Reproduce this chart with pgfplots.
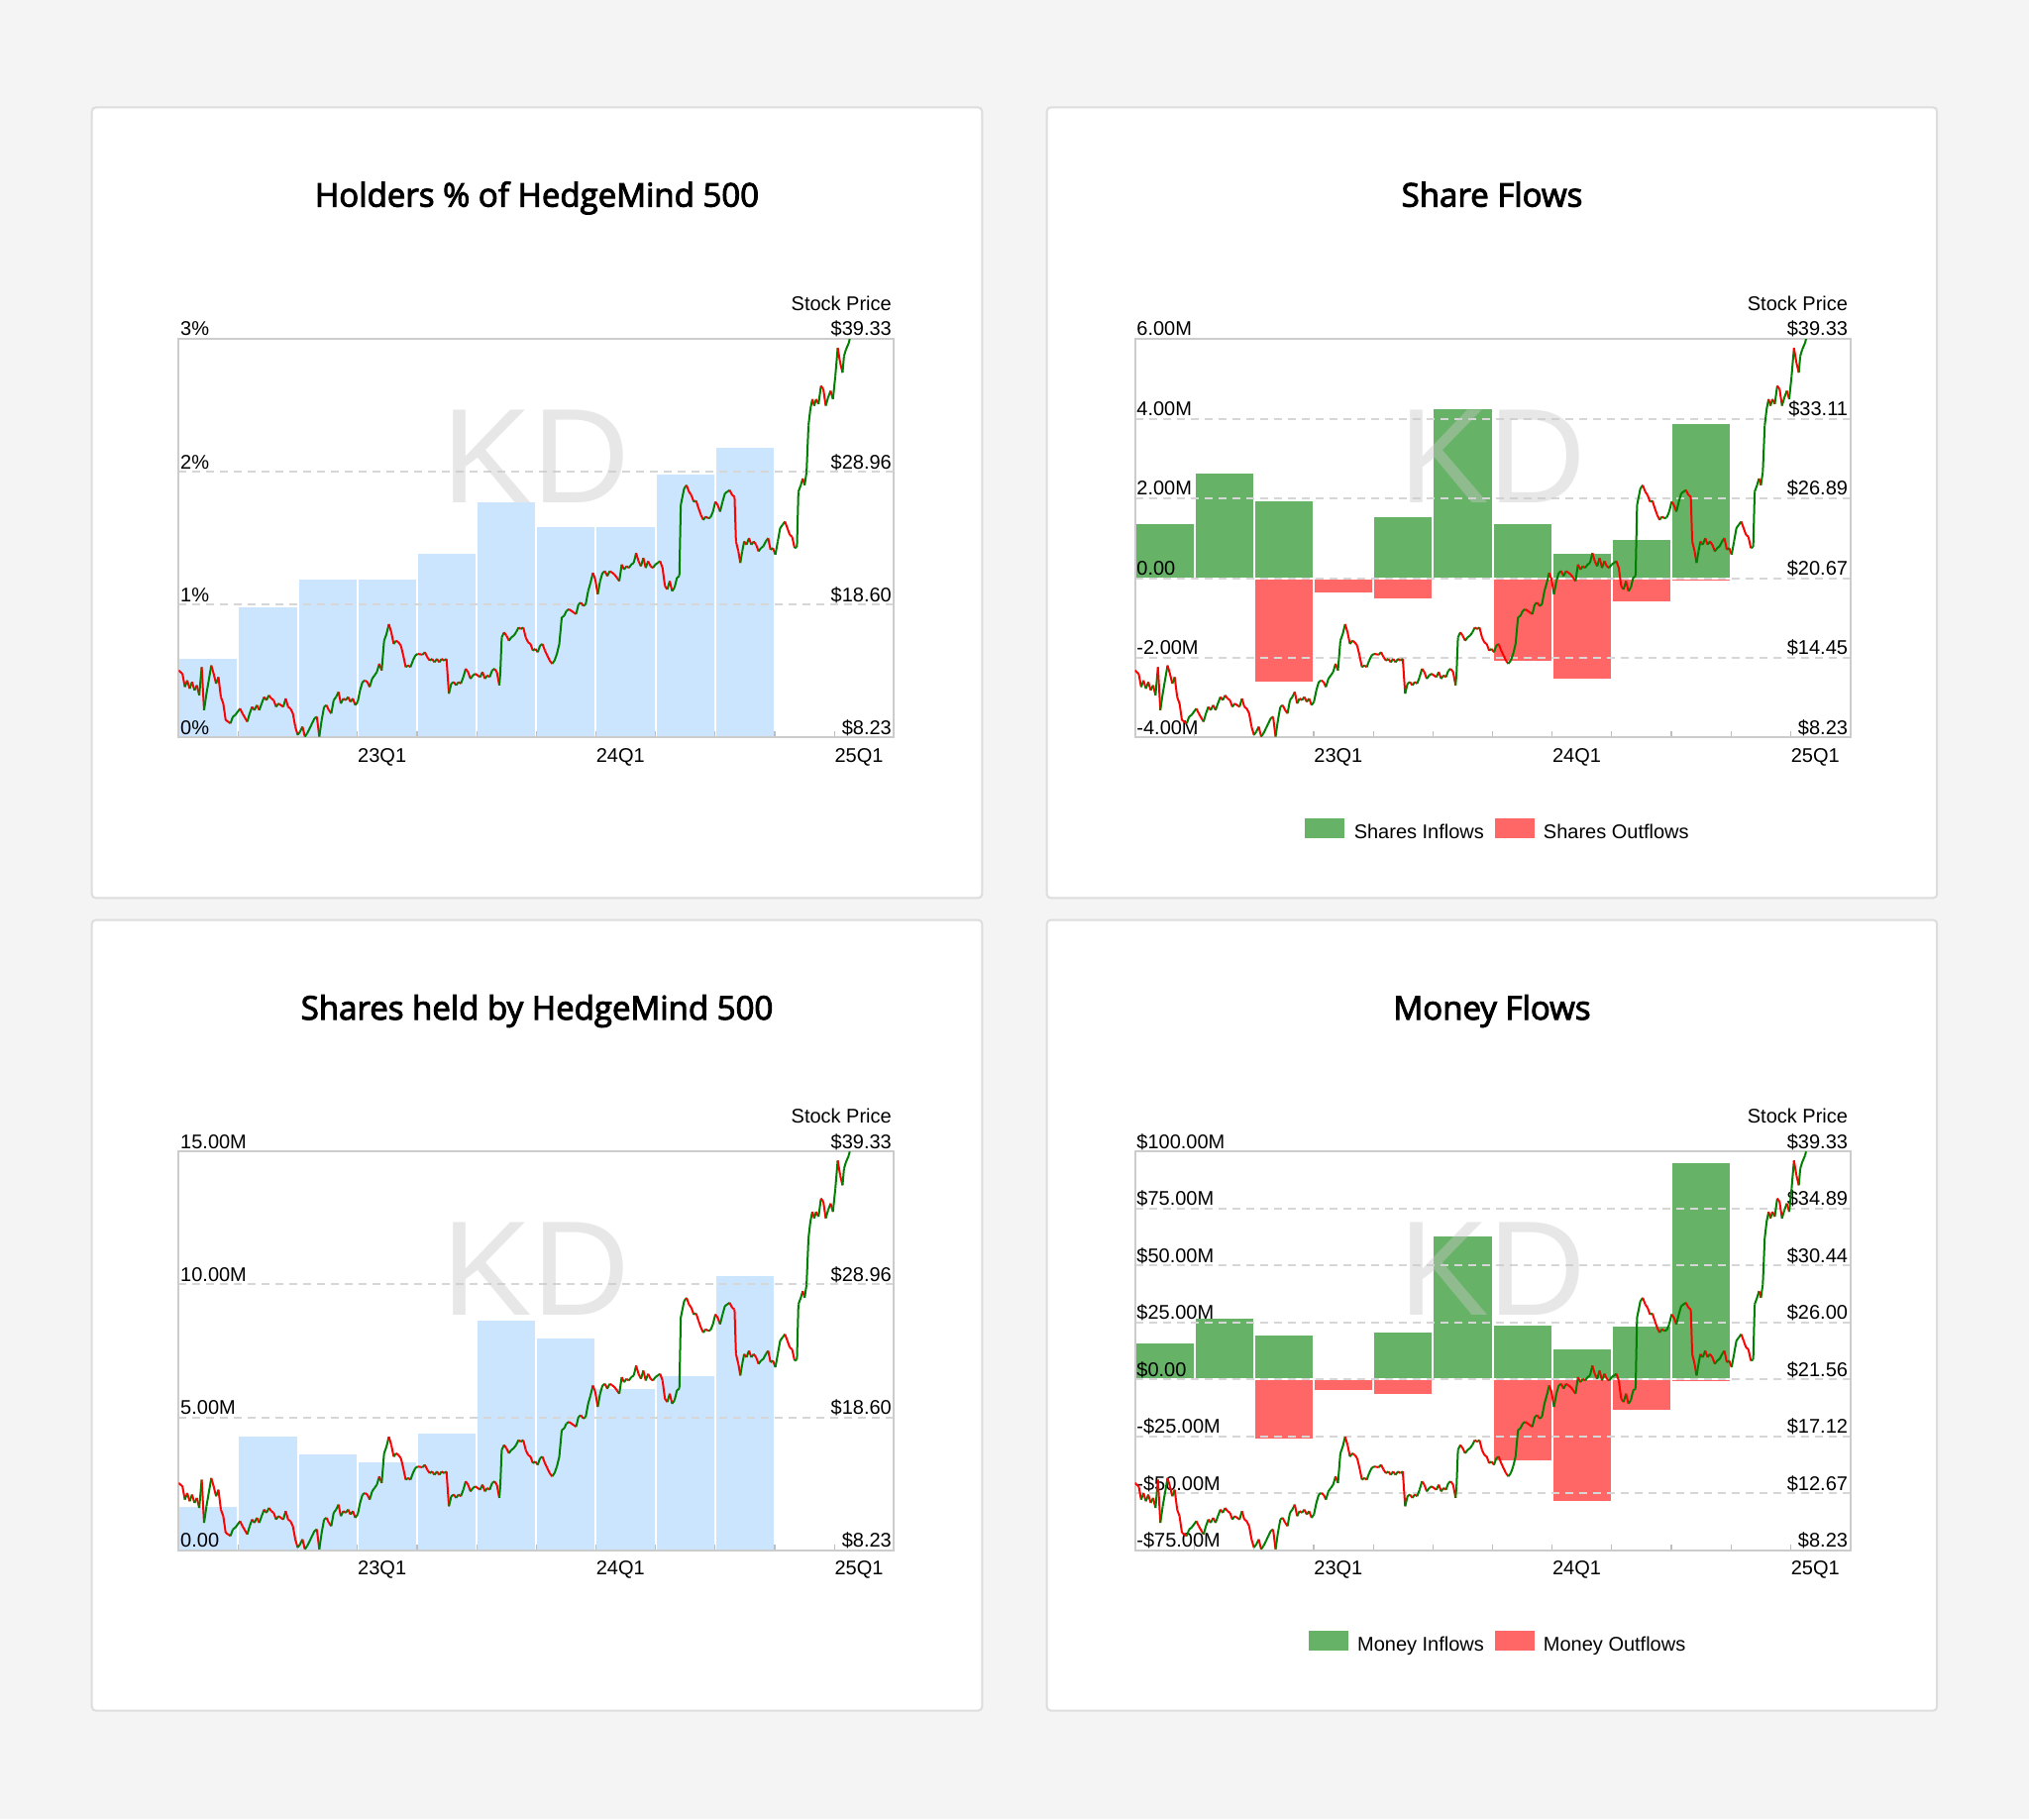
\documentclass[border=0pt]{standalone}
\usepackage{fontspec}
\setmainfont{Liberation Sans}
\newfontfamily\titlefont[FakeBold=3]{Open Sans}
\usepackage{pgfplots}
\usepackage{pgfplotstable}
\pgfplotsset{compat=1.18}
\definecolor{bgc}{RGB}{244,244,244}
\definecolor{cardb}{RGB}{221,221,221}
\definecolor{bordc}{RGB}{204,204,204}
\definecolor{gridc}{RGB}{214,214,214}
\definecolor{tickc}{RGB}{190,190,190}
\definecolor{holdc}{RGB}{204,229,255}
\definecolor{inc}{RGB}{102,178,102}
\definecolor{outc}{RGB}{255,102,102}
\definecolor{pricered}{RGB}{255,0,0}
\definecolor{pricegreen}{RGB}{0,128,0}
\definecolor{wmc}{RGB}{200,200,200}
\newcommand\lab{\fontsize{10}{12}\selectfont}

% stock price: q = quarters since 22Q2 start, p = price, c = 1 if next move up
\pgfplotstableread{
q p c
0.000 13.47 0
0.064 13.21 0
0.105 12.18 1
0.145 12.69 0
0.185 12.05 1
0.225 12.57 0
0.266 11.92 1
0.306 12.31 0
0.346 11.53 1
0.387 13.73 0
0.427 10.37 1
0.467 11.66 1
0.548 13.86 0
0.588 13.21 0
0.628 12.44 1
0.668 12.95 0
0.709 11.40 0
0.749 10.89 0
0.789 9.60 0
0.830 9.47 0
0.870 9.34 1
0.910 9.86 1
0.950 9.99 1
1.031 10.50 0
1.071 10.11 0
1.152 9.47 1
1.192 10.11 1
1.232 10.63 0
1.272 10.37 1
1.313 10.76 0
1.353 10.37 1
1.393 10.89 1
1.434 11.40 0
1.474 11.15 1
1.514 11.53 0
1.554 11.28 0
1.595 11.15 0
1.635 10.63 1
1.675 10.89 0
1.756 10.63 1
1.796 11.28 0
1.836 10.63 0
1.876 10.50 0
1.917 10.11 0
1.957 9.08 0
1.997 8.44 1
2.037 8.69 1
2.078 9.08 0
2.118 8.31 1
2.158 8.57 1
2.199 8.95 1
2.239 9.34 1
2.279 9.73 1
2.319 9.86 0
2.360 8.31 1
2.400 9.60 1
2.440 10.63 1
2.480 10.76 0
2.521 10.37 0
2.561 10.11 1
2.601 11.15 1
2.642 11.40 1
2.682 11.79 0
2.722 10.89 1
2.762 11.28 0
2.803 11.15 1
2.843 11.40 0
2.883 11.02 1
2.923 11.28 0
2.964 10.76 1
3.004 11.02 1
3.044 11.92 1
3.085 12.57 1
3.125 12.69 0
3.165 12.57 0
3.205 12.18 1
3.246 12.82 1
3.286 13.08 1
3.326 13.34 1
3.366 13.99 0
3.407 13.47 1
3.447 15.79 1
3.487 16.31 1
3.527 17.08 0
3.568 16.44 0
3.608 15.53 1
3.648 15.79 0
3.688 15.66 0
3.729 15.41 0
3.769 14.63 0
3.809 13.73 1
3.850 13.86 0
3.890 13.73 1
3.930 14.24 1
3.970 14.63 1
4.011 14.76 0
4.091 14.70 1
4.131 14.89 0
4.172 14.50 0
4.212 14.24 1
4.252 14.37 0
4.292 14.11 1
4.333 14.37 0
4.373 14.11 1
4.413 14.37 0
4.453 14.24 1
4.494 14.37 0
4.534 11.66 1
4.574 12.44 1
4.615 12.57 0
4.655 12.31 1
4.695 12.57 0
4.735 12.44 1
4.776 12.95 1
4.816 13.60 0
4.856 13.34 0
4.896 12.82 1
4.937 13.08 1
4.977 13.21 0
5.057 12.95 1
5.098 13.34 0
5.138 12.82 1
5.178 13.08 0
5.219 12.95 1
5.259 13.47 1
5.299 13.60 0
5.339 13.34 0
5.380 12.31 1
5.396 13.21 1
5.420 16.05 1
5.460 16.44 0
5.500 16.18 0
5.541 15.79 1
5.581 16.05 1
5.621 16.18 1
5.662 16.44 1
5.702 16.82 0
5.742 16.70 1
5.782 16.82 0
5.823 16.05 0
5.863 15.66 0
5.903 15.53 0
5.943 15.02 1
5.984 15.15 0
6.024 14.89 1
6.064 15.41 1
6.104 15.53 0
6.145 15.02 0
6.185 14.63 0
6.225 14.24 0
6.266 13.99 1
6.306 14.24 1
6.346 14.76 1
6.386 15.53 1
6.427 17.60 1
6.467 17.73 1
6.507 18.12 1
6.547 18.24 0
6.588 18.12 0
6.628 17.99 0
6.668 17.86 1
6.708 18.63 1
6.749 18.76 0
6.789 18.50 1
6.829 18.63 1
6.870 19.66 1
6.910 20.31 1
6.950 21.08 0
6.990 20.57 0
7.031 19.41 1
7.071 20.44 1
7.111 21.08 1
7.152 21.21 0
7.192 20.83 1
7.232 21.21 0
7.272 21.10 0
7.313 20.95 0
7.353 20.70 0
7.393 20.44 1
7.433 21.73 0
7.474 21.34 1
7.514 21.60 0
7.554 21.47 1
7.594 21.73 1
7.635 21.86 1
7.675 22.63 0
7.715 21.99 0
7.756 21.60 1
7.796 22.24 0
7.836 21.47 1
7.876 21.99 0
7.917 21.60 0
7.957 21.47 1
7.997 21.73 1
8.037 21.86 1
8.078 21.99 0
8.118 21.47 0
8.158 20.05 0
8.198 19.79 1
8.239 20.44 0
8.279 19.66 1
8.319 19.92 1
8.360 20.70 1
8.400 20.83 1
8.424 26.37 1
8.480 27.66 1
8.521 27.92 0
8.561 27.41 0
8.601 27.15 0
8.641 26.63 1
8.682 26.70 0
8.722 26.12 0
8.762 25.60 0
8.802 25.21 1
8.843 25.47 0
8.883 25.34 1
8.923 25.40 1
8.964 25.86 1
9.004 26.63 0
9.044 26.37 0
9.084 25.86 1
9.125 26.63 1
9.165 27.28 1
9.205 27.41 1
9.245 27.54 0
9.286 27.15 0
9.326 27.02 0
9.350 23.53 0
9.390 22.76 0
9.423 21.86 1
9.455 22.76 1
9.487 23.53 0
9.527 23.28 1
9.568 23.79 0
9.608 23.28 1
9.648 23.53 0
9.688 23.28 0
9.729 22.76 1
9.769 23.02 1
9.809 23.15 1
9.850 23.53 1
9.890 23.79 0
9.930 22.89 1
9.970 23.02 0
10.011 22.50 1
10.051 23.53 1
10.091 24.57 1
10.131 24.83 1
10.172 25.08 0
10.212 24.57 0
10.252 24.05 0
10.292 23.90 0
10.333 23.02 1
10.373 23.10 1
10.397 27.41 1
10.437 27.92 1
10.470 28.44 0
10.502 27.92 1
10.534 28.95 1
10.566 32.57 1
10.598 33.86 1
10.631 34.63 0
10.663 34.12 1
10.695 34.63 0
10.735 34.25 1
10.776 35.67 0
10.816 35.41 0
10.856 34.12 1
10.896 34.76 1
10.937 35.28 0
10.977 34.63 1
11.017 36.44 1
11.057 38.63 0
11.098 37.47 0
11.138 36.70 1
11.162 37.99 1
11.195 38.50 1
11.243 39.02 1
11.259 39.33 1
}\pricetable

\pgfplotsset{
  barax/.style={
    anchor=south west, scale only axis, width=361pt, height=201.2pt,
    xmin=0, xmax=12, enlargelimits=false, axis on top,
    axis line style={draw=bordc, line width=1pt},
    xtick={1,...,11}, xticklabels={,,23Q1,,,,24Q1,,,,25Q1},
    xtick pos=left, tick align=inside, major tick length=3pt,
    xtick style={draw=tickc, line width=0.6pt},
    ytick style={draw=none},
    tick label style={font=\lab, text=black},
    xticklabel style={anchor=base west, inner sep=0pt, yshift=-12.6pt, xshift=0pt},
    yticklabel style={anchor=base west, inner sep=0pt, yshift=1.6pt, xshift=0.75pt},
    ymajorgrids, grid style={dash pattern=on 4pt off 3pt, line width=1pt, draw=gridc},
    legend image code/.code={\fill[##1,draw=none] (0pt,-2.5pt) rectangle (20pt,7.5pt); \path (22.2pt,0pt);},
    legend style={at={(0.509,-0.237)}, anchor=center, draw=none, fill=none,
      inner sep=0pt, font=\lab, legend columns=2,
      /tikz/every even column/.append style={column sep=3.3pt}},
    legend cell align=left,
  },
  bars/.style={ybar, bar width=1, bar shift=0pt, draw=white, line width=1pt, fill=#1},
  priceax/.style={
    anchor=south west, scale only axis, width=361pt, height=201.2pt,
    xmin=0, xmax=12, ymin=8.23, ymax=39.33, enlargelimits=false,
    hide x axis, axis line style={draw=none}, ytick style={draw=none},
    yticklabel pos=right,
    yticklabel style={anchor=base east, inner sep=0pt, yshift=1.6pt, xshift=-1.05pt, font=\lab, text=black},
    colormap={updown}{color=(pricered) color=(pricegreen)},
    point meta min=0, point meta max=1,
  },
  pline/.style={mesh, shader=flat corner, line width=1pt, point meta=explicit},
}
\tikzset{wm/.style={font=\fontsize{68}{68}\selectfont, text=wmc, text opacity=0.42, inner sep=0pt}}

\begin{document}
\begin{tikzpicture}
\path[use as bounding box] (0,0) rectangle (1024pt,918pt);
\fill[bgc] (0,0) rectangle (1024pt,918pt);
\foreach \cx/\cy in {46.35/464.8, 528.3/464.8, 46.35/54.7, 528.3/54.7}{
  \draw[cardb, fill=white, line width=1pt, rounded corners=2pt] (\cx pt,\cy pt) rectangle ++(449.3pt,399pt);
}
\node[anchor=base, font=\titlefont\fontsize{16.5}{20}\selectfont] at (271pt,813.7pt) {Holders \% of HedgeMind 500};
\node[anchor=base, font=\titlefont\fontsize{16.5}{20}\selectfont] at (753pt,813.7pt) {Share Flows};
\node[anchor=base, font=\titlefont\fontsize{16.5}{20}\selectfont] at (271pt,403.45pt) {Shares held by HedgeMind 500};
\node[anchor=base, font=\titlefont\fontsize{16.5}{20}\selectfont] at (753pt,403.45pt) {Money Flows};

% ---------- Top left: Holders %
\begin{axis}[barax, at={(90.15pt,545.75pt)}, ymin=0, ymax=3,
  ytick={0,1,2,3}, yticklabels={0\%,1\%,2\%,3\%}]
\addplot[bars=holdc] coordinates {(0.5,0.60) (1.5,0.99) (2.5,1.20) (3.5,1.20) (4.5,1.39) (5.5,1.78) (6.5,1.59) (7.5,1.59) (8.5,1.99) (9.5,2.19)};
\end{axis}
\begin{axis}[priceax, name=pTL, at={(90.15pt,545.75pt)},
  ytick={8.23,18.60,28.96,39.33}, yticklabels={\$8.23,\$18.60,\$28.96,\$39.33}]
\node[wm] at (rel axis cs:0.5,0.706) {KD};
\addplot[pline] table[x=q, y=p, meta=c] {\pricetable};
\end{axis}
\node[anchor=base east, inner sep=0pt, font=\lab] at ([xshift=-1.05pt,yshift=14.35pt]pTL.north east) {Stock Price};

% ---------- Top right: Share flows
\begin{axis}[barax, at={(572.75pt,545.75pt)}, ymin=-4, ymax=6,
  ytick={-4,-2,0,2,4,6}, yticklabels={-4.00M,-2.00M,0.00,2.00M,4.00M,6.00M}]
\addplot[bars=inc] coordinates {(0.5,1.39) (1.5,2.64) (2.5,1.94) (4.5,1.55) (5.5,4.27) (6.5,1.39) (7.5,0.63) (8.5,0.97) (9.5,3.89)};
\addlegendentry{Shares Inflows}
\addplot[bars=outc] coordinates {(2.5,-2.62) (3.5,-0.38) (4.5,-0.53) (5.5,-0.05) (6.5,-2.10) (7.5,-2.55) (8.5,-0.60) (9.5,-0.08)};
\addlegendentry{Shares Outflows}
\end{axis}
\begin{axis}[priceax, name=pTR, at={(572.75pt,545.75pt)},
  ytick={8.23,14.45,20.67,26.89,33.11,39.33}, yticklabels={\$8.23,\$14.45,\$20.67,\$26.89,\$33.11,\$39.33}]
\node[wm] at (rel axis cs:0.5,0.706) {KD};
\addplot[pline] table[x=q, y=p, meta=c] {\pricetable};
\end{axis}
\node[anchor=base east, inner sep=0pt, font=\lab] at ([xshift=-1.05pt,yshift=14.35pt]pTR.north east) {Stock Price};

% ---------- Bottom left: Shares held
\begin{axis}[barax, at={(90.15pt,135.65pt)}, ymin=0, ymax=15,
  ytick={0,5,10,15}, yticklabels={0.00,5.00M,10.00M,15.00M}]
\addplot[bars=holdc] coordinates {(0.5,1.65) (1.5,4.30) (2.5,3.66) (3.5,3.33) (4.5,4.41) (5.5,8.66) (6.5,7.99) (7.5,6.12) (8.5,6.57) (9.5,10.34)};
\end{axis}
\begin{axis}[priceax, name=pBL, at={(90.15pt,135.65pt)},
  ytick={8.23,18.60,28.96,39.33}, yticklabels={\$8.23,\$18.60,\$28.96,\$39.33}]
\node[wm] at (rel axis cs:0.5,0.706) {KD};
\addplot[pline] table[x=q, y=p, meta=c] {\pricetable};
\end{axis}
\node[anchor=base east, inner sep=0pt, font=\lab] at ([xshift=-1.05pt,yshift=14.35pt]pBL.north east) {Stock Price};

% ---------- Bottom right: Money flows
\begin{axis}[barax, at={(572.75pt,135.65pt)}, ymin=-75, ymax=100,
  ytick={-75,-50,-25,0,25,50,75,100},
  yticklabels={-\$75.00M,-\$50.00M,-\$25.00M,\$0.00,\$25.00M,\$50.00M,\$75.00M,\$100.00M}]
\addplot[bars=inc] coordinates {(0.5,16.0) (1.5,27.2) (2.5,19.5) (4.5,20.8) (5.5,63.2) (6.5,23.9) (7.5,13.4) (8.5,23.4) (9.5,95.5)};
\addlegendentry{Money Inflows}
\addplot[bars=outc] coordinates {(2.5,-26.5) (3.5,-5.2) (4.5,-6.8) (5.5,-0.7) (6.5,-35.8) (7.5,-53.7) (8.5,-13.8) (9.5,-1.2)};
\addlegendentry{Money Outflows}
\end{axis}
\begin{axis}[priceax, name=pBR, at={(572.75pt,135.65pt)},
  ytick={8.23,12.67,17.12,21.56,26.00,30.44,34.89,39.33},
  yticklabels={\$8.23,\$12.67,\$17.12,\$21.56,\$26.00,\$30.44,\$34.89,\$39.33}]
\node[wm] at (rel axis cs:0.5,0.706) {KD};
\addplot[pline] table[x=q, y=p, meta=c] {\pricetable};
\end{axis}
\node[anchor=base east, inner sep=0pt, font=\lab] at ([xshift=-1.05pt,yshift=14.35pt]pBR.north east) {Stock Price};
\end{tikzpicture}
\end{document}
